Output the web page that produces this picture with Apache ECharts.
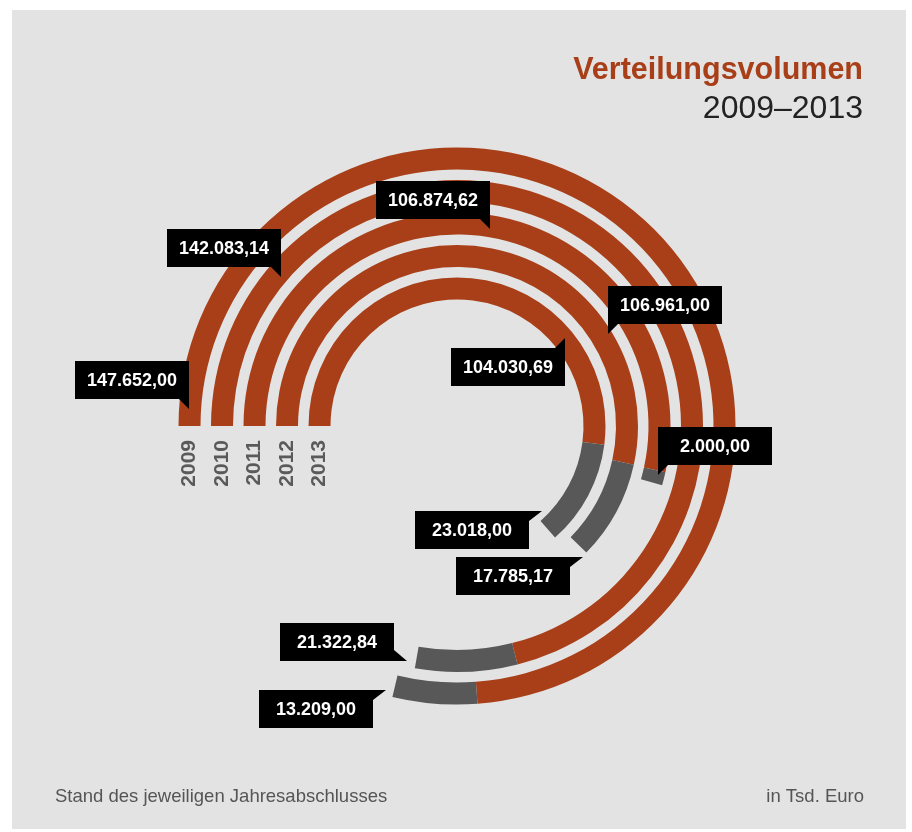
<!DOCTYPE html>
<html>
<head>
<meta charset="utf-8">
<script src="https://cdn.jsdelivr.net/npm/echarts@6/dist/echarts.min.js"></script>
<style>
  html, body { margin: 0; padding: 0; background: #ffffff; }
  #panel { position: absolute; left: 12px; top: 10px; width: 894px; height: 819px; background: #e3e3e3; }
  #chart { position: absolute; left: 0; top: 0; width: 912px; height: 832px; }
</style>
</head>
<body>
<div id="panel"></div>
<div id="chart"></div>
<script>
// ---- data ----
const years = ['2009', '2010', '2011', '2012', '2013'];
const mainValues = [147652.00, 142083.14, 106961.00, 106874.62, 104030.69];   // orange arcs
const extraValues = [13209.00, 21322.84, 2000.00, 17785.17, 23018.00];        // grey part, as labelled
const extraDrawn = [9800, 13400, 2000.00, 17785.17, 23018.00];                // grey arc length as drawn
const fullCircle = 200000;
const titleText = 'Verteilungsvolumen';
const subtitleText = '2009–2013';
const footLeft = 'Stand des jeweiligen Jahresabschlusses';
const footRight = 'in Tsd. Euro';

// ---- layout / style ----
const ORANGE = '#a83f18';
const GREY = '#585858';
const CX = 457, CY = 426;
const R_IN = 121.25, R_OUT = 283.75;
const BOX_W = 114, BOX_H = 38;
// label boxes: [series ('main'|'extra'), yearIndex, x, y, tail]
const labelLayout = [
  ['main', 0, 75, 361, 'br-down'],
  ['main', 1, 167, 229, 'br-down'],
  ['main', 3, 376, 181, 'br-down'],
  ['main', 2, 608, 286, 'bl-down'],
  ['main', 4, 451, 348, 'tr-up'],
  ['extra', 2, 658, 427, 'bl-down'],
  ['extra', 4, 415, 511, 'tr-right'],
  ['extra', 3, 456, 557, 'tr-right'],
  ['extra', 1, 280, 623, 'br-right'],
  ['extra', 0, 259, 690, 'tr-right']
];

function fmtDE(v) {
  const parts = v.toFixed(2).split('.');
  const intPart = parts[0].replace(/\B(?=(\d{3})+(?!\d))/g, '.');
  return intPart + ',' + parts[1];
}

function tailPoints(x, y, w, h, t) {
  switch (t) {
    case 'br-down': return [[x + w - 10, y + h], [x + w, y + h], [x + w, y + h + 10]];
    case 'bl-down': return [[x, y + h], [x + 10, y + h], [x, y + h + 10]];
    case 'tr-up': return [[x + w - 10, y], [x + w, y], [x + w, y - 10]];
    case 'br-right': return [[x + w, y + h - 11], [x + w, y + h], [x + w + 13, y + h]];
    case 'tr-right': return [[x + w, y], [x + w + 13, y], [x + w, y + 10]];
  }
  return [];
}

const chart = echarts.init(document.getElementById('chart'), null, { renderer: 'canvas' });

const graphics = [];
// title
graphics.push({ type: 'text', right: 49, top: 55, style: { text: titleText, fill: ORANGE, font: 'bold 30.5px "Liberation Sans", Arial, sans-serif' } });
graphics.push({ type: 'text', right: 49, top: 93, style: { text: subtitleText, fill: '#222222', font: '32px "Liberation Sans", Arial, sans-serif' } });
// footer
graphics.push({ type: 'text', left: 55, top: 787, style: { text: footLeft, fill: '#555555', font: '18.5px "Liberation Sans", Arial, sans-serif' } });
graphics.push({ type: 'text', right: 48, top: 787, style: { text: footRight, fill: '#555555', font: '18.5px "Liberation Sans", Arial, sans-serif' } });

// year labels under each ring's starting point
const band = (R_OUT - R_IN) / years.length;
years.forEach((y, i) => {
  const r = R_OUT - (i + 0.5) * band; // inverse axis: first year outermost
  graphics.push({
    type: 'text', x: CX - r, y: 440, rotation: Math.PI / 2,
    style: { text: y, fill: '#5a5a5a', font: 'bold 21px "Liberation Sans", Arial, sans-serif', align: 'right', verticalAlign: 'middle' }
  });
});

// value label boxes
labelLayout.forEach(([s, idx, x, y, tail]) => {
  const v = s === 'main' ? mainValues[idx] : extraValues[idx];
  graphics.push({ type: 'polygon', shape: { points: tailPoints(x, y, BOX_W, BOX_H, tail) }, style: { fill: '#000' }, z: 10 });
  graphics.push({ type: 'rect', shape: { x: x, y: y, width: BOX_W, height: BOX_H }, style: { fill: '#000' }, z: 10 });
  graphics.push({
    type: 'text', x: x + BOX_W / 2, y: y + BOX_H / 2 + 1, z: 11,
    style: { text: fmtDE(v), fill: '#ffffff', font: 'bold 18px "Liberation Sans", Arial, sans-serif', align: 'center', verticalAlign: 'middle' }
  });
});

chart.setOption({
  backgroundColor: 'transparent',
  animation: false,
  polar: { center: [CX, CY], radius: [R_IN, R_OUT] },
  angleAxis: { type: 'value', min: 0, max: fullCircle, startAngle: 180, clockwise: true, show: false },
  radiusAxis: { type: 'category', data: years, inverse: true, show: false },
  series: [
    { type: 'bar', coordinateSystem: 'polar', stack: 'v', barWidth: 22, data: mainValues,
      itemStyle: { color: ORANGE }, silent: true },
    { type: 'bar', coordinateSystem: 'polar', stack: 'v', barWidth: 22, data: extraDrawn,
      itemStyle: { color: GREY }, silent: true }
  ],
  graphic: graphics
});
</script>
</body>
</html>
